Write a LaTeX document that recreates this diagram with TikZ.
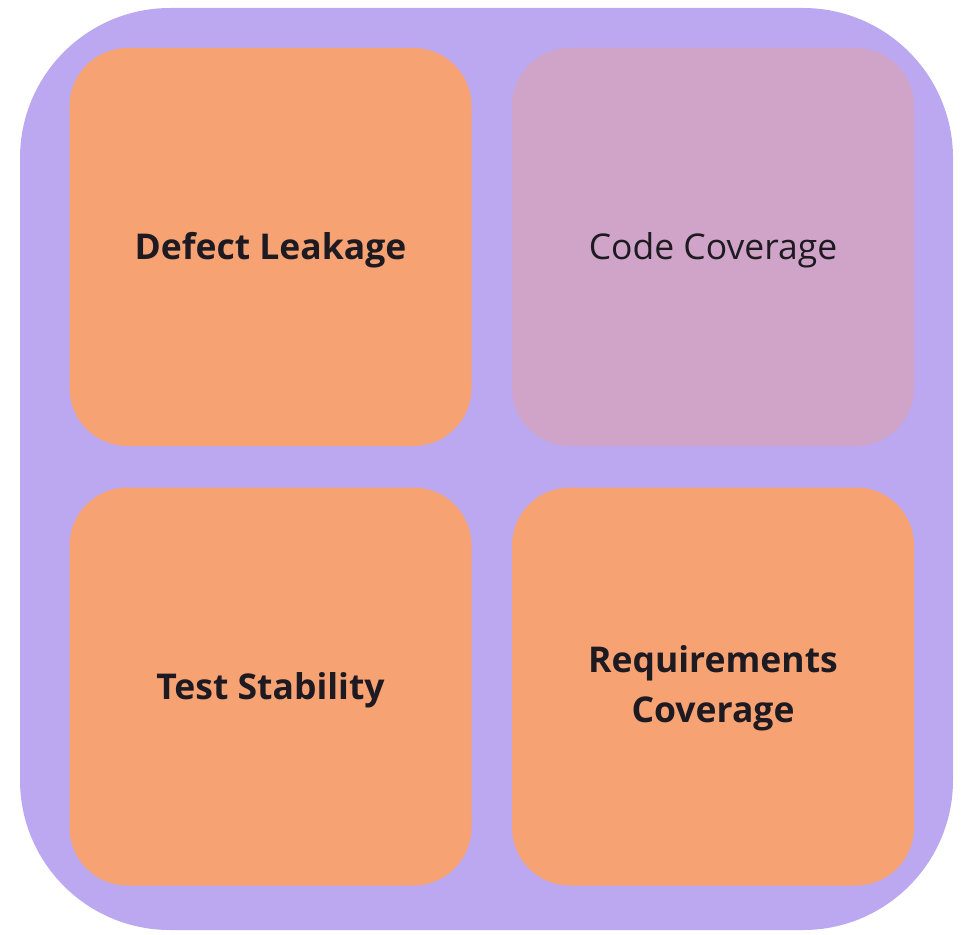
\documentclass[tikz,border=0pt]{standalone}
\usepackage{fontspec}
\setmainfont{Open Sans}
\definecolor{outerpurple}{HTML}{BBA8F0}
\definecolor{boxorange}{HTML}{F6A272}
\definecolor{boxpink}{HTML}{D0A4C8}
\definecolor{textdark}{HTML}{1E1A22}
\tikzset{
  tile/.style={fill=boxorange, draw=none, rounded corners=58pt, minimum width=402pt, minimum height=398pt, inner sep=0pt},
  tilepink/.style={tile, fill=boxpink},
  lbl/.style={inner sep=0pt, text=textdark, align=center, font=\fontsize{35.5}{50}\selectfont\bfseries},
  lblplain/.style={lbl, font=\fontsize{35.5}{50}\selectfont},
}
\begin{document}
\begin{tikzpicture}[x=1pt,y=-1pt]
\useasboundingbox (0,0) rectangle (966,934);
\fill[outerpurple, rounded corners=150pt] (20,8) rectangle (953,930);
\node[tile] (defect) at (270.5,247) {};
\node[tilepink] (code) at (713,247) {};
\node[tile] (stab) at (270.5,686.5) {};
\node[tile] (req) at (713,686.5) {};
\node[lbl] (defectlbl) at ([yshift=-3.5pt]defect.center) {Defect Leakage};
\node[lblplain] (codelbl) at ([yshift=-3.5pt]code.center) {Code Coverage};
\node[lbl] (stablbl) at ([yshift=-3.5pt]stab.center) {Test Stability};
\node[lbl] (reqlbl) at ([yshift=-2pt]req.center) {Requirements\\Coverage};
\end{tikzpicture}
\end{document}
